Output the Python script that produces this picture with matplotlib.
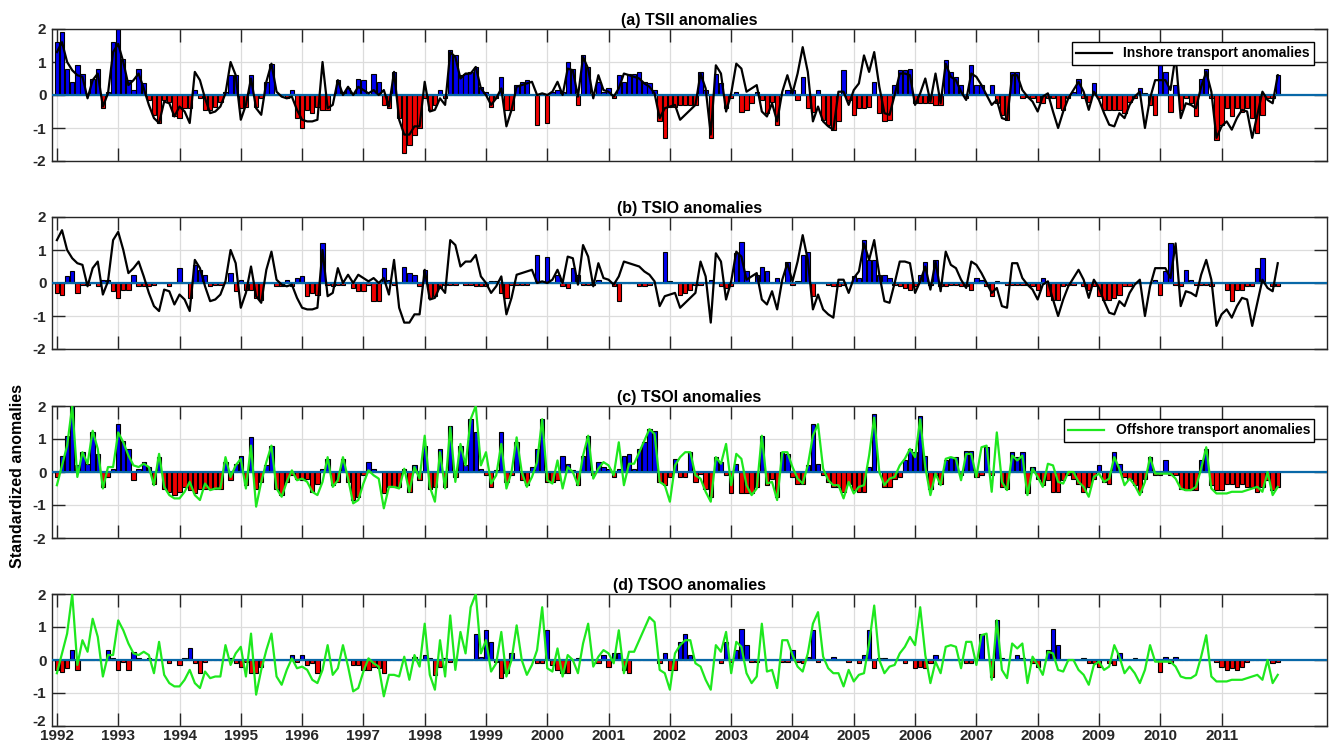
import numpy as np
import matplotlib.pyplot as plt
from matplotlib.transforms import ScaledTranslation

years = list(range(1992, 2012))

# (a) TSII bar values, one row per year (Jan..Dec)
tsii = [
    1.6, 1.9, 0.8, 0.4, 0.9, 0.65, 0.0, 0.5, 0.8, -0.4, 0.1, 1.6,
    2.0, 1.1, 0.45, 0.15, 0.8, 0.35, -0.15, -0.6, -0.85, -0.15, -0.2, -0.65,
    -0.7, -0.4, -0.4, 0.15, -0.1, -0.45, -0.45, -0.35, -0.2, 0.1, 0.6, 0.6,
    -0.4, -0.35, 0.6, -0.35, -0.1, 0.4, 0.95, 0.0, 0.0, -0.1, 0.15, -0.7,
    -1.0, -0.45, -0.55, -0.35, -0.45, -0.45, 0.0, 0.45, 0.1, 0.2, 0.05, 0.5,
    0.45, 0.0, 0.65, 0.4, -0.3, -0.4, 0.7, -0.7, -1.75, -1.5, -1.2, -1.0,
    -0.1, -0.45, -0.3, 0.15, -0.1, 1.35, 1.2, 0.6, 0.65, 0.7, 0.85, 0.25,
    0.1, -0.35, -0.1, 0.55, -0.45, -0.45, 0.3, 0.4, 0.45, 0.0, -0.9, 0.0,
    -0.85, 0.1, 0.15, 0.1, 1.0, 0.8, -0.3, 1.2, 0.85, 0.0, 0.4, 0.1,
    0.2, -0.1, 0.6, 0.4, 0.65, 0.65, 0.7, 0.4, 0.35, 0.15, -0.8, -1.3,
    -0.35, -0.35, -0.3, -0.3, -0.3, -0.3, 0.7, 0.15, -1.3, 0.65, 0.35, -0.4,
    -0.1, 0.1, -0.5, -0.45, -0.25, 0.1, -0.15, -0.55, -0.2, -0.9, 0.0, 0.15,
    0.15, -0.15, 0.55, -0.4, -0.5, 0.15, -0.75, -0.9, -1.05, -0.8, 0.75, -0.15,
    -0.6, -0.4, -0.4, -0.35, 0.4, -0.55, -0.8, -0.75, 0.3, 0.75, 0.75, 0.8,
    -0.25, -0.25, -0.25, -0.25, -0.3, -0.3, 1.05, 0.7, 0.55, 0.3, -0.1, 0.9,
    0.3, 0.3, 0.0, 0.3, -0.25, -0.6, -0.75, 0.7, 0.7, -0.1, -0.05, -0.1,
    -0.2, -0.25, -0.1, -0.1, -0.4, -0.45, -0.1, 0.1, 0.5, -0.1, -0.2, 0.35,
    -0.1, -0.45, -0.45, -0.45, -0.45, -0.55, -0.2, -0.1, 0.2, 0.05, -0.3, -0.6,
    0.9, 0.7, -0.5, 0.3, -0.45, -0.1, -0.25, -0.65, 0.5, 0.8, -0.1, -1.35,
    -0.9, -0.4, -0.65, -0.4, -0.5, -0.4, -0.7, -1.15, -0.6, -0.1, -0.1, 0.6,
]

# (b) TSIO bar values
tsio = [
    -0.3, -0.35, 0.2, 0.35, -0.3, -0.05, -0.05, 0.0, -0.1, 0.1, 0.1, -0.25,
    -0.45, -0.2, -0.2, 0.25, -0.1, -0.1, -0.1, -0.05, 0.0, 0.0, -0.1, 0.0,
    0.45, 0.0, -0.45, 0.55, 0.4, 0.25, -0.1, -0.05, -0.05, 0.0, 0.3, -0.25,
    0.1, -0.2, -0.2, -0.45, -0.5, 0.0, 0.0, -0.1, -0.1, 0.1, -0.1, 0.15,
    0.2, -0.4, -0.3, -0.35, 1.2, -0.05, -0.1, -0.05, -0.05, 0.0, -0.15, -0.25,
    -0.25, -0.05, -0.55, -0.55, 0.45, 0.1, -0.05, 0.0, 0.5, 0.3, 0.25, -0.1,
    0.4, -0.45, -0.4, -0.15, -0.05, -0.05, -0.05, 0.0, -0.05, -0.05, -0.1, -0.1,
    -0.1, 0.05, 0.05, -0.3, -0.45, -0.05, -0.05, -0.05, -0.05, 0.0, 0.85, 0.0,
    0.8, 0.0, 0.25, -0.1, -0.15, 0.45, 0.25, -0.05, -0.05, -0.05, 0.1, 0.0,
    0.0, -0.1, -0.55, 0.0, 0.0, 0.0, -0.1, -0.1, -0.05, 0.0, 0.0, 0.95,
    0.05, 0.0, -0.35, -0.3, -0.2, -0.05, -0.05, 0.0, 0.1, 0.0, -0.1, -0.15,
    -0.1, 0.9, 1.25, 0.35, 0.0, 0.25, 0.5, 0.35, 0.0, 0.15, 0.0, 0.65,
    -0.05, 0.05, 0.85, 0.95, -0.4, 0.0, 0.0, -0.05, -0.1, -0.1, -0.05, 0.0,
    0.2, 0.15, 1.3, 0.7, 0.7, 0.25, 0.25, 0.15, -0.05, -0.1, -0.15, -0.2,
    -0.1, 0.25, 0.65, -0.05, 0.7, -0.1, -0.1, -0.05, -0.05, -0.1, -0.1, -0.2,
    0.15, 0.1, -0.1, -0.4, 0.05, 0.0, -0.05, -0.05, -0.05, -0.05, -0.05, -0.1,
    -0.2, 0.15, -0.4, -0.5, -0.5, -0.1, -0.05, -0.05, 0.0, -0.1, -0.2, -0.1,
    -0.4, -0.5, -0.5, -0.45, -0.35, -0.1, -0.1, 0.0, 0.0, 0.0, 0.0, 0.1,
    -0.35, 0.35, 1.2, -0.05, -0.1, 0.4, 0.1, -0.05, -0.05, -0.05, -0.1, 0.0,
    0.0, -0.2, -0.55, -0.2, -0.2, -0.1, -0.1, 0.45, 0.75, 0.0, -0.1, -0.1,
]

# (c) TSOI bar values
tsoi = [
    -0.15, 0.5, 1.1, 2.0, 0.2, 0.6, 0.25, 1.2, 0.55, -0.45, -0.15, 0.1,
    1.45, 0.95, 0.7, -0.25, 0.1, 0.3, 0.15, -0.35, 0.45, -0.5, -0.6, -0.7,
    -0.6, -0.45, -0.55, -0.65, -0.5, -0.5, -0.5, -0.5, -0.5, 0.3, -0.25, 0.25,
    0.5, -0.4, 1.05, -0.5, -0.3, 0.2, 0.8, -0.5, -0.7, -0.3, -0.1, -0.2,
    -0.25, -0.2, -0.6, -0.35, 0.1, 0.4, -0.4, -0.3, 0.4, -0.3, -0.85, -0.75,
    -0.1, 0.3, 0.1, 0.0, -0.65, -0.45, -0.45, -0.45, 0.1, -0.6, 0.2, -0.25,
    0.8, -0.5, -0.45, 0.7, -0.45, 1.4, -0.15, 0.8, 0.2, 1.6, 1.2, 0.1,
    -0.1, -0.45, 0.05, 1.2, -0.3, -0.1, 0.9, -0.25, -0.4, 0.15, 0.7, 1.6,
    -0.3, -0.3, -0.25, 0.5, 0.25, 0.05, -0.4, 0.5, 1.1, -0.1, 0.3, 0.15,
    0.1, -0.15, 0.1, 0.5, 0.55, 0.1, 0.7, 0.9, 1.3, 1.25, -0.3, -0.4,
    -0.15, 0.4, -0.15, -0.15, 0.6, -0.3, -0.05, -0.5, -0.75, 0.45, 0.3, -0.1,
    -0.65, 0.25, -0.65, -0.65, -0.65, -0.45, 1.1, -0.4, -0.2, -0.75, 0.6, 0.55,
    -0.15, -0.35, -0.35, 0.2, 1.45, 0.25, -0.1, -0.3, -0.45, -0.45, -0.6, -0.35,
    -0.55, -0.6, -0.6, 0.15, 1.75, 0.0, -0.45, -0.45, -0.2, -0.15, 0.35, 0.7,
    0.6, 1.7, 0.5, -0.5, -0.1, -0.35, 0.35, 0.45, 0.45, -0.1, 0.65, 0.65,
    -0.15, -0.1, 0.75, -0.1, 0.0, -0.45, -0.5, 0.6, 0.45, 0.6, -0.65, 0.15,
    -0.2, -0.4, -0.25, -0.6, -0.6, -0.25, -0.1, -0.2, -0.35, -0.6, -0.45, -0.2,
    0.2, -0.3, -0.35, 0.6, 0.25, -0.15, -0.2, -0.4, -0.6, -0.2, 0.45, -0.1,
    -0.1, 0.35, -0.1, -0.1, -0.5, -0.55, -0.55, -0.55, 0.35, 0.7, -0.4, -0.55,
    -0.55, -0.35, -0.35, -0.45, -0.35, -0.45, -0.45, -0.6, -0.45, -0.25, -0.55, -0.45,
]

# (d) TSOO bar values
tsoo = [
    -0.3, -0.35, -0.25, 0.3, -0.3, 0.0, 0.0, 0.0, 0.0, 0.0, 0.3, 0.05,
    -0.3, -0.05, -0.3, 0.25, 0.05, 0.0, 0.05, 0.0, 0.0, 0.0, -0.1, 0.0,
    -0.15, 0.05, 0.35, -0.1, -0.4, -0.05, 0.0, 0.0, 0.0, 0.0, 0.05, -0.1,
    -0.2, -0.05, -0.4, -0.4, -0.2, 0.0, 0.0, 0.0, 0.0, 0.0, 0.15, -0.05,
    0.15, -0.15, -0.1, -0.4, 0.0, 0.0, 0.0, 0.0, 0.0, 0.0, -0.15, -0.15,
    -0.3, -0.3, -0.2, -0.25, -0.4, 0.0, 0.0, 0.0, 0.0, 0.0, 0.1, 0.0,
    0.15, 0.05, -0.45, -0.2, 0.05, -0.05, 0.0, 0.0, 0.0, 0.0, 0.8, 0.1,
    0.9, 0.55, -0.05, -0.55, -0.4, 0.2, 0.0, 0.0, 0.0, 0.0, -0.1, -0.1,
    0.9, -0.15, -0.3, -0.4, -0.4, 0.0, 0.05, 0.0, 0.0, 0.0, -0.1, 0.15,
    -0.2, 0.2, 0.2, -0.3, -0.4, 0.0, 0.0, 0.0, 0.0, 0.0, -0.1, 0.2,
    -0.3, -0.3, 0.55, 0.8, 0.15, 0.0, 0.0, 0.0, 0.0, 0.0, -0.1, 0.55,
    -0.05, 0.3, 0.95, 0.45, -0.05, -0.05, 0.0, 0.0, 0.0, 0.0, -0.05, -0.05,
    0.3, -0.05, -0.1, 0.1, 0.9, -0.05, 0.0, 0.0, 0.1, 0.0, 0.0, -0.05,
    0.0, -0.1, 0.15, 0.9, -0.25, 0.05, 0.05, 0.0, 0.0, 0.0, -0.1, 0.0,
    -0.25, -0.2, -0.25, -0.1, 0.15, 0.0, 0.0, 0.0, 0.0, 0.0, -0.1, -0.1,
    0.0, 0.8, 0.0, -0.5, 1.2, 0.05, 0.0, 0.0, 0.15, 0.05, 0.0, -0.1,
    -0.2, 0.0, 0.3, 0.95, 0.45, 0.0, 0.0, 0.0, 0.0, 0.05, -0.1, -0.1,
    -0.2, 0.0, -0.1, -0.15, 0.2, 0.0, 0.0, 0.05, 0.0, 0.0, 0.0, 0.0,
    -0.35, 0.1, -0.1, 0.1, 0.0, 0.0, 0.0, 0.0, 0.0, 0.0, 0.0, -0.05,
    -0.2, -0.3, -0.25, -0.3, -0.2, -0.05, 0.0, 0.0, 0.0, 0.0, -0.1, -0.05,
]

# inshore transport anomalies (line in a and b)
inshore = [
    1.3, 1.6, 1.0, 0.75, 0.6, 0.55, -0.1, 0.45, 0.65, -0.35, 0.05, 1.3,
    1.55, 1.0, 0.3, 0.45, 0.65, 0.2, -0.3, -0.7, -0.85, -0.2, -0.25, -0.65,
    -0.35, -0.5, -0.85, 0.7, 0.45, -0.1, -0.55, -0.5, -0.35, 0.05, 1.0, 0.6,
    -0.75, -0.3, 0.5, -0.4, -0.6, 0.4, 0.95, 0.1, -0.05, -0.1, -0.05, -0.45,
    -0.75, -0.8, -0.8, -0.75, 1.0, -0.4, -0.3, 0.45, 0.0, 0.25, 0.0, 0.25,
    0.15, 0.05, 0.15, 0.0, 0.15, -0.35, 0.7, -0.75, -1.2, -1.2, -0.95, -0.95,
    0.4, -0.5, -0.45, -0.1, -0.3, 1.3, 1.15, 0.5, 0.65, 0.65, 0.85, 0.2,
    0.0, -0.3, -0.1, 0.2, -0.95, -0.45, 0.25, 0.3, 0.35, 0.4, 0.0, 0.05,
    0.0, 0.1, 0.4, 0.0, 0.8, 0.75, -0.05, 1.15, 0.8, -0.1, 0.6, 0.15,
    0.1, -0.05, 0.2, 0.65, 0.6, 0.55, 0.5, 0.35, 0.25, 0.05, -0.7, -0.4,
    -0.35, -0.3, -0.75, -0.6, -0.45, -0.3, 0.65, 0.2, -1.2, 0.9, 0.65, -0.5,
    0.05, 0.95, 0.8, 0.1, 0.2, 0.3, -0.5, -0.65, -0.25, -0.8, 0.1, 0.6,
    0.05, 0.65, 1.45, 0.7, -0.8, -0.35, -0.8, -0.95, -1.05, 0.1, 0.1, -0.3,
    0.15, 0.35, 1.2, 0.7, 1.3, 0.25, -0.55, -0.6, 0.0, 0.65, 0.65, 0.6,
    -0.3, 0.05, 0.5, -0.2, 0.65, -0.25, 0.95, 0.55, 0.45, 0.1, -0.15, 0.65,
    0.55, 0.3, 0.0, -0.3, -0.15, -0.7, -0.75, 0.6, 0.6, 0.15, -0.05, -0.2,
    -0.5, -0.05, 0.05, -0.5, -1.0, -0.5, -0.1, 0.15, 0.4, 0.1, -0.45, 0.1,
    -0.15, -0.55, -0.9, -0.95, -0.55, -0.7, -0.3, -0.05, 0.1, -1.0, -0.1, 0.45,
    0.45, 0.45, 0.15, 1.2, -0.7, -0.25, -0.3, -0.4, 0.25, 0.7, 0.1, -1.3,
    -0.95, -0.8, -1.05, -0.7, -0.45, -0.5, -1.3, -0.6, 0.1, -0.15, -0.25, 0.6,
]

# offshore transport anomalies (line in c and d)
offshore = [
    -0.4, 0.2, 0.8, 2.0, -0.15, 0.6, 0.25, 1.25, 0.7, -0.5, 0.15, 0.15,
    1.2, 0.9, 0.5, 0.2, 0.15, 0.25, 0.15, -0.4, 0.55, -0.45, -0.7, -0.8,
    -0.8, -0.6, -0.3, -0.7, -0.85, -0.35, -0.55, -0.5, -0.5, 0.45, -0.15, 0.2,
    0.4, -0.5, 0.8, -1.05, -0.3, 0.3, 0.8, -0.5, -0.75, -0.3, 0.05, -0.25,
    -0.2, -0.3, -0.6, -0.7, -0.3, 0.45, -0.45, -0.25, 0.45, -0.2, -0.95, -0.85,
    -0.35, 0.05, -0.1, -0.2, -1.1, -0.45, -0.45, -0.5, 0.1, -0.6, 0.15, -0.2,
    1.1, -0.45, -0.9, 0.6, -0.5, 1.35, -0.3, 0.85, 0.2, 1.6, 2.0, 0.2,
    0.6, -0.35, -0.1, 0.85, -0.5, 0.0, 1.05, 0.0, -0.45, -0.15, 0.3, 1.6,
    -0.25, -0.35, 0.35, -0.5, 0.15, 0.0, -0.4, 0.5, 1.1, -0.2, 0.1, 0.3,
    0.2, -0.1, 0.9, -0.4, 0.25, 0.25, 0.6, 0.95, 1.3, 1.15, -0.3, -0.4,
    -0.9, 0.2, 0.45, 0.6, 0.6, -0.1, -0.2, -0.6, -0.9, 0.45, 0.25, 0.85,
    -0.4, 0.55, 0.4, -0.4, -0.7, -0.5, 1.1, -0.35, -0.3, -0.85, 0.6, 0.6,
    0.15, -0.2, -0.35, 0.2, 1.1, 1.45, 0.1, -0.25, -0.4, -0.4, -0.8, -0.3,
    -0.65, -0.45, -0.4, 0.5, 1.65, 0.0, -0.4, -0.2, -0.15, 0.2, 0.4, 0.7,
    0.45, 1.6, 0.15, -0.7, -0.05, -0.4, 0.4, 0.45, 0.4, -0.25, 0.55, 0.55,
    -0.15, 0.75, 0.8, -0.6, 1.2, -0.3, -0.55, 0.5, 0.35, 0.5, -0.7, 0.1,
    -0.15, -0.45, 0.25, 0.2, -0.3, -0.35, 0.0, 0.0, -0.3, -0.45, -0.75, -0.15,
    -0.05, -0.3, -0.2, 0.45, 0.1, -0.4, -0.2, -0.4, -0.7, -0.3, 0.45, -0.05,
    -0.05, -0.05, -0.05, -0.2, -0.5, -0.55, -0.55, -0.45, 0.1, 0.75, -0.5, -0.65,
    -0.65, -0.65, -0.6, -0.6, -0.6, -0.55, -0.5, -0.45, -0.6, 0.0, -0.7, -0.45,
]

titles = ['(a) TSII anomalies', '(b) TSIO anomalies',
          '(c) TSOI anomalies', '(d) TSOO anomalies']

plt.rcParams['font.family'] = ['Liberation Sans', 'DejaVu Sans']
plt.rcParams['font.weight'] = 'bold'

t = years[0] + np.arange(len(tsii)) / 12.0

W, H = 1329, 744
fig = plt.figure(figsize=(W / 100, H / 100), dpi=100)

# pixel top/bottom of each panel
boxes = [(29, 161), (217, 349), (406, 538), (594, 726)]
bars = [tsii, tsio, tsoi, tsoo]
lines = [inshore, inshore, offshore, offshore]
line_colors = ['black', 'black', '#1ee81e', '#1ee81e']
legends = ['Inshore transport anomalies', None, 'Offshore transport anomalies', None]

for i, (top, bot) in enumerate(boxes):
    ax = fig.add_axes([52 / W, 1 - bot / H, (1327 - 52) / W, (bot - top) / H])
    v = np.array(bars[i])
    cols = np.where(v >= 0, '#0000f0', '#f00000')
    ax.bar(t, v, width=0.85 / 12, color=cols, edgecolor='black', linewidth=0.8, zorder=2)
    ax.axhline(0, color='#0868a8', lw=1.6, zorder=3)
    ln, = ax.plot(t, lines[i], color=line_colors[i], lw=1.6, zorder=4)

    ax.set_xlim(1991.92, 2012.72)
    ax.set_ylim(-2, 2)
    ax.set_xticks(years)
    ax.set_yticks([-2, -1, 0, 1, 2])
    ax.set_yticklabels(['-2', '-1', '0', '1', '2'])
    ax.grid(True, color='#dcdcdc', lw=0.9, zorder=0)
    ax.set_axisbelow(True)
    ax.tick_params(direction='in', length=9.5, width=1.0, top=True, right=True,
                   labelsize=11, colors='#262626')
    ax.tick_params(axis='x', pad=2.5)
    ax.tick_params(axis='y', pad=4)
    if i < 3:
        ax.set_xticklabels([])
    else:
        # lift the bottom "-2" a little so it clears the first year label
        lab = ax.get_yticklabels()[0]
        lab.set_transform(lab.get_transform() + ScaledTranslation(0, 4 / 72, fig.dpi_scale_trans))
    for s in ax.spines.values():
        s.set_color('#262626')
        s.set_linewidth(1.0)
    ax.set_title(titles[i], fontsize=11.5, fontweight='bold', pad=3)

    if legends[i]:
        ax.legend([ln], [legends[i]], loc='upper right', bbox_to_anchor=(0.99, 0.9),
                  fancybox=False, edgecolor='black', framealpha=1, fontsize=10,
                  handlelength=2.6, borderaxespad=0, borderpad=0.3)

fig.text(0.013, 1 - 476 / H, 'Standardized anomalies', rotation=90,
         va='center', ha='center', fontsize=11.5, fontweight='bold')

fig.savefig('out.png', dpi=100)
